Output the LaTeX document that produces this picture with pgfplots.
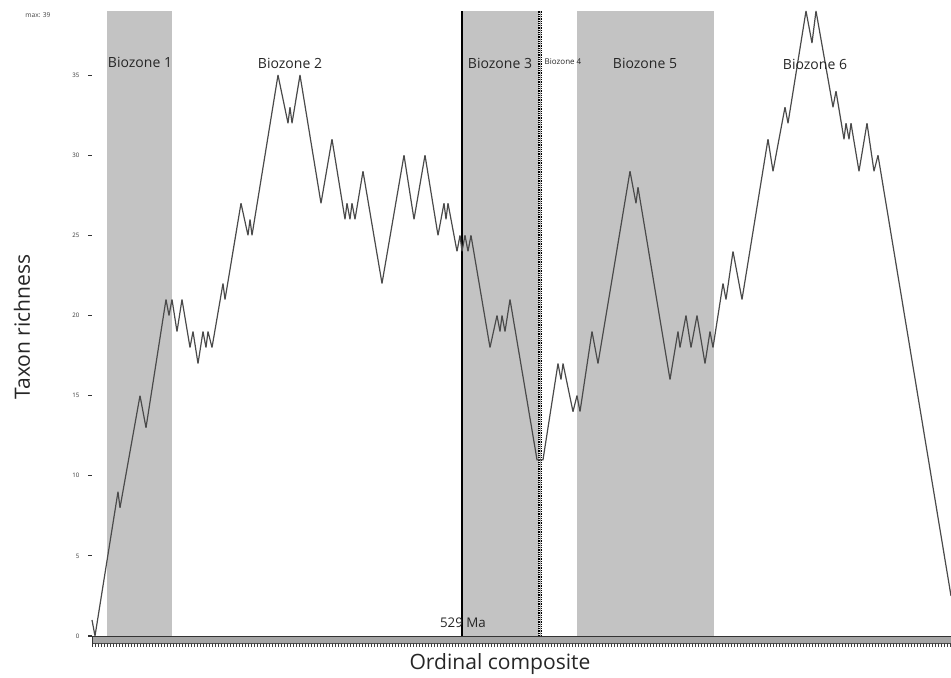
\documentclass[border=0pt]{standalone}
\usepackage{pgfplots}
\pgfplotsset{compat=1.18}
\usepackage{fontspec}
\setmainfont{Open Sans}
\definecolor{shade}{HTML}{C3C3C3}
\definecolor{curve}{HTML}{4A4A4A}
\definecolor{band}{HTML}{A6A6A6}
\begin{document}
\begin{tikzpicture}
\useasboundingbox (0,0) rectangle (713.25pt,508.5pt);
\begin{axis}[
  at={(69pt,31.5pt)}, anchor=south west,
  scale only axis, width=644.25pt, height=468.75pt,
  xmin=92, xmax=951, ymin=0, ymax=39,
  hide x axis,
  axis y line*=left,
  y axis line style={draw=none},
  ytick={0,5,...,35},
  tick align=outside,
  major tick length=3pt,
  ytick style={line width=0.8pt, color=black!80},
  yticklabel style={font=\fontsize{4.6}{5}\selectfont, xshift=-3pt, color=black!80},
  /pgf/number format/assume math mode=true,
  clip=false,
]
% biozone shading
\addplot[fill=shade, draw=none] coordinates {(107,39)(172,39)} \closedcycle;
\addplot[fill=shade, draw=none] coordinates {(462,39)(538.5,39)} \closedcycle;
\addplot[fill=shade, draw=none] coordinates {(577,39)(714,39)} \closedcycle;
% boundary lines
\addplot[black, line width=1.3pt] coordinates {(462,0)(462,39)};
\addplot[black, line width=2.4pt, dash pattern=on 0.75pt off 0.6pt] coordinates {(540,0)(540,39)};
\addplot[white!70!black, line width=0.35pt] coordinates {(540,0)(540,39)};
% taxon richness curve
\addplot[curve, line width=0.9pt, line join=miter, miter limit=4] coordinates {
(92,1)(95,0)(118,9)(120,8)(140,15)(146,13)(166,21)(169,20)(172,21)(177,19)
(182,21)(190,18)(193,19)(198,17)(203,19)(206,18)(208,19)(212,18)(223,22)(225,21)
(241,27)(248,25)(250,26)(252,25)(278,35)(288,32)(290,33)(292,32)(300,35)(321,27)
(332,31)(345,26)(347,27)(350,26)(352,27)(355,26)(363,29)(382,22)(404,30)(414,26)
(425,30)(438,25)(444,27)(446,26)(448,27)(457,24)(460,25)(462,24)(465,25)(468,24)
(471,25)(490,18)(497,20)(500,19)(502,20)(505,19)(510,21)(537,11)(543,11)(558,17)
(561,16)(563,17)(573,14)(577,15)(580,14)(592,19)(598,17)(630,29)(636,27)(638,28)
(670,16)(678,19)(680,18)(686,20)(691,18)(697,20)(705,17)(710,19)(713,18)(723,22)
(726,21)(733,24)(742,21)(768,31)(773,29)(785,33)(788,32)(806,39)(812,37)(816,39)
(833,33)(836,34)(844,31)(846,32)(849,31)(851,32)(859,29)(867,32)(874,29)(878,30)
(951,2.5)
};
\end{axis}
\begin{scope}[x=0.75pt, y=-0.75pt, shift={(0,508.5pt)}]
  % bottom band and dense ticks
  \fill[band] (92,636) rectangle (951,643);
  \draw[black!80, line width=0.5pt] (92,636) -- (951,636);
  \draw[black!70, line width=0.4pt] (92,643) -- (951,643);
  \foreach \x in {92,95,...,950} \draw[black!75, line width=0.35pt] (\x,643) -- (\x,647);
  \draw[black!80, line width=0.6pt] (92,636) -- (92,647);
  % texts
  \node[font=\fontsize{5}{6}\selectfont, color=black!75] at (38,15) {max: 39};
  \node[font=\fontsize{10.5}{12}\selectfont, color=black!85] at (140,62) {Biozone 1};
  \node[font=\fontsize{10.5}{12}\selectfont, color=black!85] at (290,63) {Biozone 2};
  \node[font=\fontsize{10.5}{12}\selectfont, color=black!85] at (500,63) {Biozone 3};
  \node[font=\fontsize{6}{7}\selectfont, color=black!85] at (563,62) {Biozone 4};
  \node[font=\fontsize{10.5}{12}\selectfont, color=black!85] at (645,63) {Biozone 5};
  \node[font=\fontsize{10.5}{12}\selectfont, color=black!85] at (815,64) {Biozone 6};
  \node[font=\fontsize{10}{12}\selectfont, color=black!85] at (463,623) {529 Ma};
  \node[font=\fontsize{15.8}{18}\selectfont, color=black!85] at (500,664) {Ordinal composite};
  \node[font=\fontsize{15.8}{18}\selectfont, color=black!85, rotate=90] at (22,327) {Taxon richness};
\end{scope}
\end{tikzpicture}
\end{document}
